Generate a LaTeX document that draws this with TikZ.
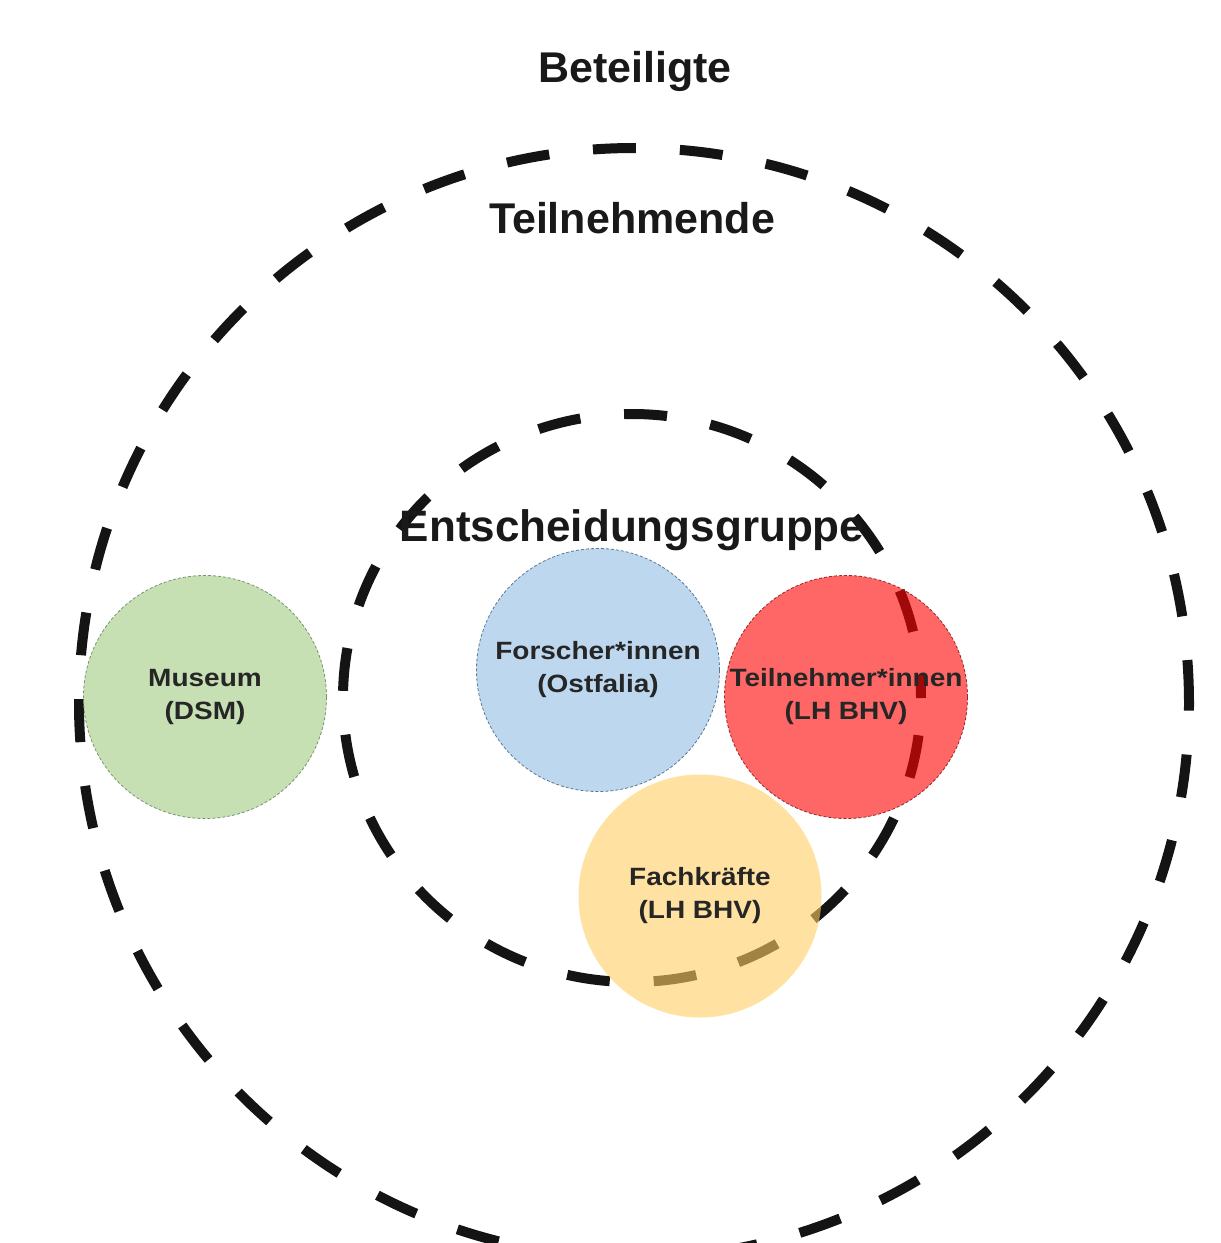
\documentclass[tikz,border=0pt]{standalone}
\usepackage{fontspec}
\setmainfont{Liberation Sans}
\newfontfamily\lblfont[FakeStretch=1.12]{Liberation Sans}
\definecolor{grn}{RGB}{198,224,180}
\definecolor{grnline}{RGB}{120,150,110}
\definecolor{blu}{RGB}{189,215,238}
\definecolor{bluline}{RGB}{90,120,150}
\definecolor{ylw}{RGB}{255,208,100}
\definecolor{redline}{RGB}{150,40,40}
\tikzset{
  bigdash/.style={draw=black!92, line width=10pt, dash pattern=on 43pt off 44pt},
  titletext/.style={font=\fontsize{43}{50}\selectfont\bfseries, text=black!90, anchor=base, inner sep=0pt},
  member/.style={circle, minimum size=243pt, inner sep=0pt, align=center,
    font=\lblfont\fontsize{25}{33}\selectfont\bfseries, text=black!85,
    line width=0.8pt, dash pattern=on 3pt off 2pt}
}
\begin{document}
\begin{tikzpicture}[x=1pt,y=-1pt]
\fill[white] (0,0) rectangle (1221,1243);
\useasboundingbox (0,0) rectangle (1221,1243);
% dashed group borders
\draw[bigdash] (634,703) circle[radius=555pt];
\draw[bigdash, dash phase=20pt] (632,698) ellipse[x radius=289pt, y radius=284pt];
% titles
\node[titletext] (beteiligte) at (635,82) {Beteiligte};
\node[titletext] (teilnehmende) at (632,233) {Teilnehmende};
\node[titletext, font=\fontsize{44}{50}\selectfont\bfseries] (entscheidung) at (632,541) {Entscheidungsgruppe};
% members
\node[member, fill=grn, draw=grnline] (museum) at (205,697) {Museum\\(DSM)};
\node[member, fill=blu, draw=bluline] (forscher) at (598,670) {Forscher*innen\\(Ostfalia)};
\node[member, fill=red, fill opacity=0.6, text opacity=1, draw=redline] (teilnehmer) at (846,697) {Teilnehmer*innen\\(LH BHV)};
\node[member, fill=ylw, fill opacity=0.6, text opacity=1, draw=none] (fachkraefte) at (700,896) {Fachkräfte\\(LH BHV)};
\end{tikzpicture}
\end{document}
